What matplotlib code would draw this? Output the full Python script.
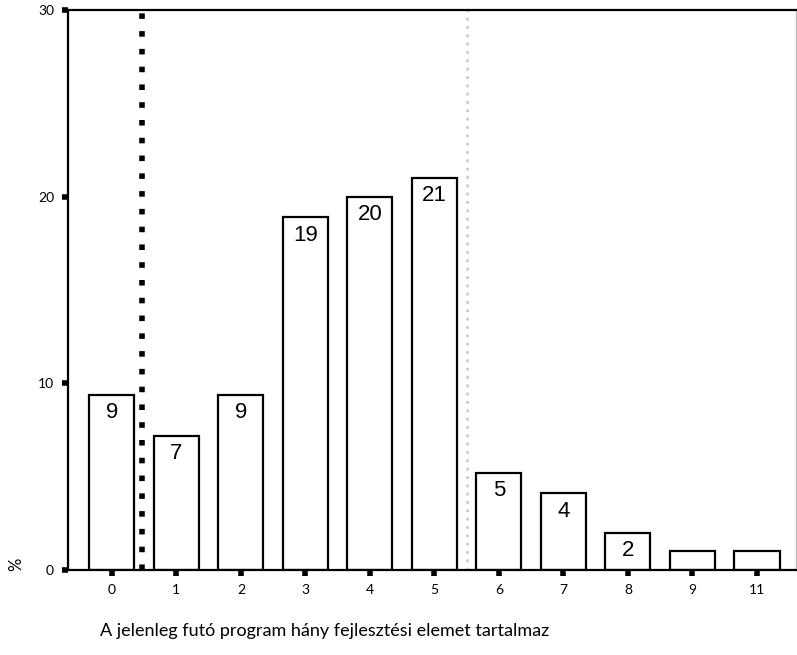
import matplotlib.pyplot as plt

# Adatok
categories = ["0", "1", "2", "3", "4", "5", "6", "7", "8", "9", "11"]
values = [9.4, 7.2, 9.4, 18.9, 20.0, 21.0, 5.2, 4.1, 2.0, 1.0, 1.0]
bar_labels = ["9", "7", "9", "19", "20", "21", "5", "4", "2", "", ""]
y_ticks = [0, 10, 20, 30]

fig = plt.figure(figsize=(7.97, 6.55), dpi=100)
ax = fig.add_axes([0.0853, 0.1298, 0.913, 0.855])

x = list(range(len(categories)))
ax.bar(x, values, width=0.7, color="white", edgecolor="black", linewidth=1.6)

for xi, v, lab in zip(x, values, bar_labels):
    if lab:
        ax.text(xi, v - 0.4, lab, ha="center", va="top", fontsize=16,
                family="Liberation Sans", color="black")

# függőleges pontozott vonalak
ax.axvline(0.46, color="black", linestyle=(0, (1, 2.2)), linewidth=4)
ax.axvline(5.5, color="#cccccc", linestyle=(0, (1, 2)), linewidth=2)

ax.set_xlim(-0.68, 10.6)
ax.set_ylim(0, 30)
ax.set_xticks(x)
ax.set_xticklabels(categories, fontsize=10, family="Lato")
ax.set_yticks(y_ticks)
ax.set_yticklabels([str(t) for t in y_ticks], fontsize=10, family="Lato")
ax.tick_params(axis="both", direction="out", length=4, width=4, pad=6)

for side in ["left", "bottom", "top"]:
    ax.spines[side].set_linewidth(1.6)
ax.spines["right"].set_color("#bbbbbb")
ax.spines["right"].set_linewidth(1)

fig.text(0.02, 0.138, "%", rotation=90, fontsize=12, family="Lato",
         ha="center", va="center")
fig.text(0.125, 0.037, "A jelenleg futó program hány fejlesztési elemet tartalmaz",
         fontsize=13, family="Lato", ha="left", va="center")

fig.savefig("out.png", dpi=100)
